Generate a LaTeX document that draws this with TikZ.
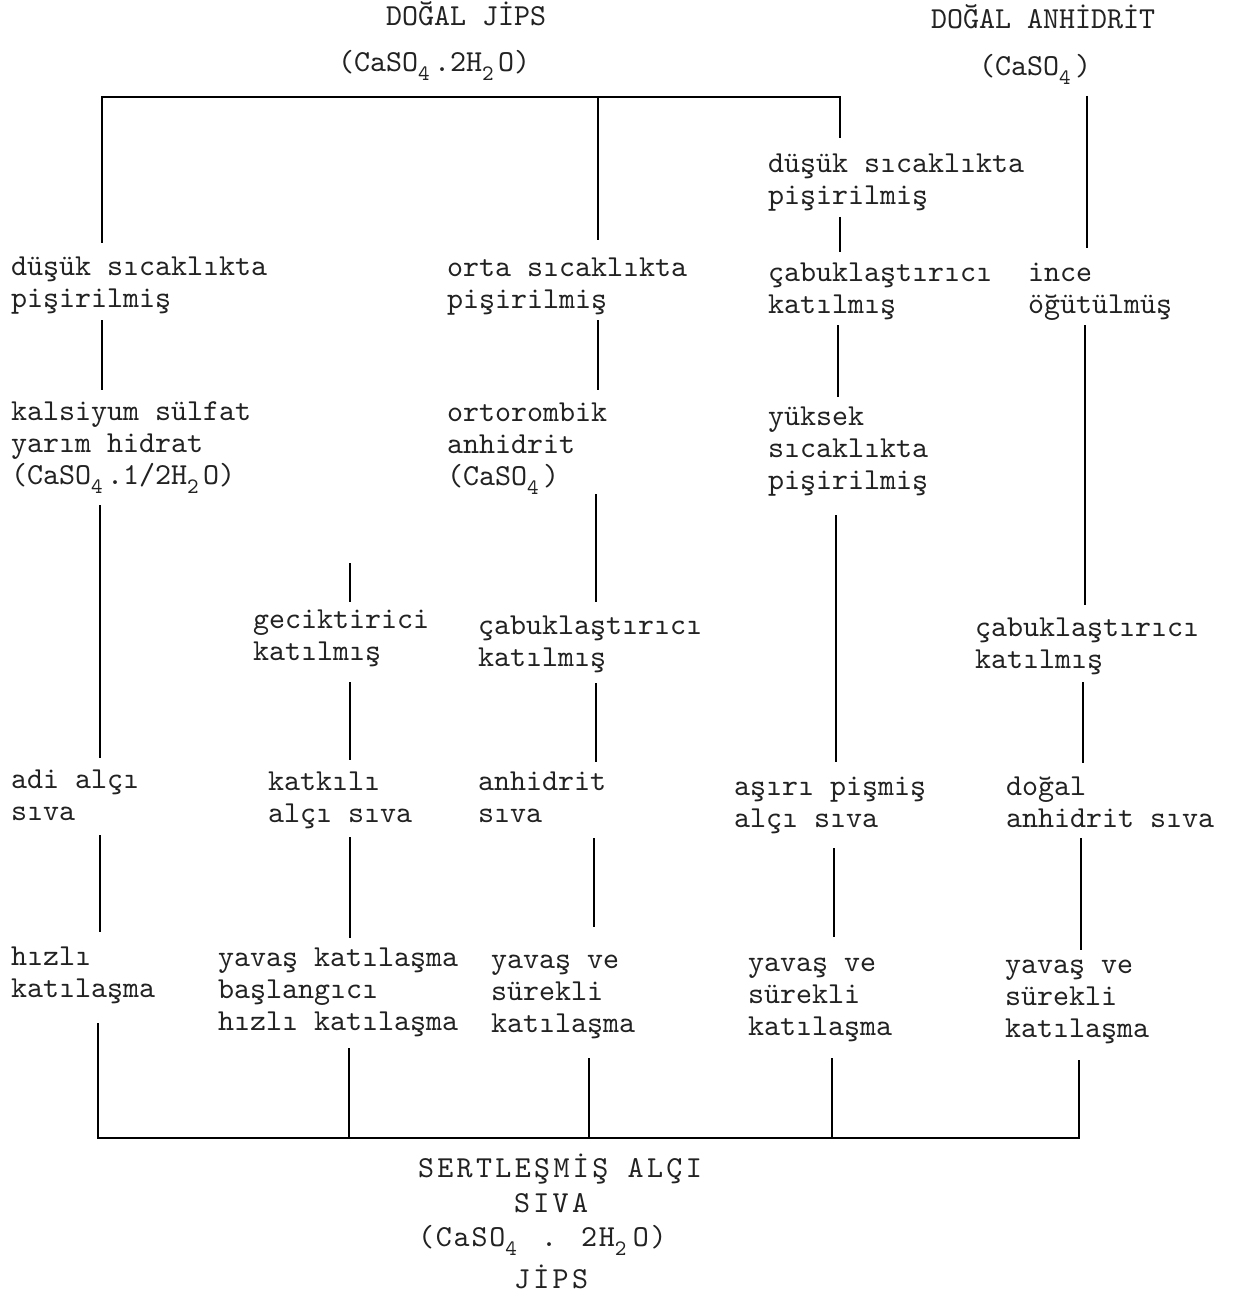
\documentclass[tikz,border=0pt]{standalone}
\usepackage{fontspec}
\newfontfamily\tw{lmmono10-regular.otf}
\newfontfamily\twwide{lmmono10-regular.otf}[LetterSpace=11]
\newfontfamily\twmid{lmmono10-regular.otf}[LetterSpace=6]
\definecolor{ink}{HTML}{222222}
\newcommand\sbs[2][16pt]{\makebox[#1][l]{\raisebox{-9pt}{\fontsize{22}{22}\selectfont #2}}}
\newcommand\tx[1]{\rule{0pt}{22pt}#1\rule[-8pt]{0pt}{8pt}}
\begin{document}
\begin{tikzpicture}[x=1pt,y=-1pt,
  lbl/.style={anchor=north west, inner sep=0pt, outer sep=0pt, align=left, text=ink,
     font=\tw\fontsize{30.5}{32}\selectfont},
  conn/.style={draw=black, line width=1.7pt},
  gap/.style 2 args={conn, shorten <=#1, shorten >=#2}]
\useasboundingbox[fill=white] (0,0) rectangle (1234,1297);

% titles
\node[lbl] (jips) at (338,4) {\tx{\hspace*{48pt}\smash{DOĞAL JİPS}\\[14pt](CaSO\sbs{4}.2H\sbs{2}O)}};
\node[lbl] (anh) at (931,7) {\tx{\smash{DOĞAL ANHİDRİT}\\[15pt]\hspace*{48pt}(CaSO\sbs{4})}};

% nodes
\node[lbl] (n4a) at (768,151) {\tx{düşük sıcaklıkta\\pişirilmiş}};
\node[lbl] (A1) at (11,253) {\tx{düşük sıcaklıkta\\pişirilmiş}};
\node[lbl] (A2) at (447,254) {\tx{orta sıcaklıkta\\pişirilmiş}};
\node[lbl] (A3) at (768,259) {\tx{çabuklaştırıcı\\katılmış}};
\node[lbl] (A4) at (1028,259) {\tx{ince\\öğütülmüş}};
\node[lbl] (B1) at (11,398) {\tx{kalsiyum sülfat\\yarım hidrat\\(CaSO\sbs{4}.1/2H\sbs{2}O)}};
\node[lbl] (B2) at (447,399) {\tx{ortorombik\\anhidrit\\(CaSO\sbs{4})}};
\node[lbl] (B3) at (768,403) {\tx{yüksek\\sıcaklıkta\\pişirilmiş}};
\node[lbl] (C1) at (253,606) {\tx{geciktirici\\katılmış}};
\node[lbl] (C2) at (478,612) {\tx{çabuklaştırıcı\\katılmış}};
\node[lbl] (C4) at (975,614) {\tx{çabuklaştırıcı\\katılmış}};
\node[lbl] (D1) at (11,766) {\tx{adi alçı\\sıva}};
\node[lbl] (D2) at (268,768) {\tx{katkılı\\alçı sıva}};
\node[lbl] (D3) at (478,768) {\tx{anhidrit\\sıva}};
\node[lbl] (D4) at (734,773) {\tx{aşırı pişmiş\\alçı sıva}};
\node[lbl] (D5) at (1006,773) {\tx{doğal\\anhidrit sıva}};
\node[lbl] (E1) at (11,943) {\tx{hızlı\\katılaşma}};
\node[lbl] (E2) at (218,944) {\tx{yavaş katılaşma\\başlangıcı\\hızlı katılaşma}};
\node[lbl] (E3) at (491,946) {\tx{yavaş ve\\sürekli\\katılaşma}};
\node[lbl] (E4) at (748,949) {\tx{yavaş ve\\sürekli\\katılaşma}};
\node[lbl] (E5) at (1005,951) {\tx{yavaş ve\\sürekli\\katılaşma}};
\node[lbl, font=\twwide\fontsize{30.5}{32}\selectfont] (res) at (418,1155)
  {\tx{\smash{SERTLEŞMİŞ ALÇI}\\[3pt]\hspace*{96pt}SIVA\\[2pt]{\twmid(CaSO\sbs[18pt]{4} . 2H\sbs[18pt]{2}O)}\\[9pt]\hspace*{96pt}JİPS}};

% column coordinates
\coordinate (x1a) at (102,0); \coordinate (x1b) at (100,0); \coordinate (x1c) at (98,0);
\coordinate (x2a) at (350,0); \coordinate (x2b) at (349,0);
\coordinate (x3a) at (598,0); \coordinate (x3b) at (596,0); \coordinate (x3c) at (594,0); \coordinate (x3d) at (589,0);
\coordinate (x4a) at (840,0); \coordinate (x4b) at (838,0); \coordinate (x4c) at (836,0); \coordinate (x4d) at (834,0); \coordinate (x4e) at (832,0);
\coordinate (x5a) at (1087,0); \coordinate (x5b) at (1085,0); \coordinate (x5c) at (1083,0); \coordinate (x5d) at (1081,0); \coordinate (x5e) at (1079,0);
\coordinate (barTL) at (102,97); \coordinate (barTR) at (840,97);
\coordinate (barBL) at (98,1138); \coordinate (barBR) at (1079,1138);
\coordinate (stub) at (350,563);

% connectors
\draw[gap={10pt}{13pt}] (x1a |- A1.north) -- (barTL) -- (barTR) -- (x4a |- n4a.north);
\draw[gap={0pt}{14pt}] (x3a |- barTL) -- (x3a |- A2.north);
\draw[gap={11pt}{11pt}] (x5a |- anh.south) -- (x5a |- A4.north);
\draw[gap={4pt}{7pt}] (x4a |- n4a.south) -- (x4a |- A3.north);
\draw[gap={5pt}{8pt}] (x1a |- A1.south) -- (x1a |- B1.north);
\draw[gap={4pt}{9pt}] (x3a |- A2.south) -- (x3a |- B2.north);
\draw[gap={4pt}{6pt}] (x4b |- A3.south) -- (x4b |- B3.north);
\draw[gap={4pt}{9pt}] (x5b |- A4.south) -- (x5b |- C4.north);
\draw[gap={12pt}{8pt}] (x1b |- B1.south) -- (x1b |- D1.north);
\draw[gap={0pt}{10pt}] (x3b |- B2.south) -- (x3b |- C2.north);
\draw[gap={0pt}{4pt}] (stub) -- (x2a |- C1.north);
\draw[gap={18pt}{11pt}] (x4c |- B3.south) -- (x4c |- D4.north);
\draw[gap={14pt}{8pt}] (x2a |- C1.south) -- (x2a |- D2.north);
\draw[gap={9pt}{6pt}] (x3b |- C2.south) -- (x3b |- D3.north);
\draw[gap={6pt}{10pt}] (x5c |- C4.south) -- (x5c |- D5.north);
\draw[gap={7pt}{11pt}] (x1b |- D1.south) -- (x1b |- E1.north);
\draw[gap={7pt}{6pt}] (x2a |- D2.south) -- (x2a |- E2.north);
\draw[gap={8pt}{19pt}] (x3c |- D3.south) -- (x3c |- E3.north);
\draw[gap={13pt}{12pt}] (x4d |- D4.south) -- (x4d |- E4.north);
\draw[gap={3pt}{1pt}] (x5d |- D5.south) -- (x5d |- E5.north);
\draw[gap={18pt}{15pt}] (x1c |- E1.south) -- (barBL) -- (barBR) -- (x5e |- E5.south);
\draw[gap={10pt}{0pt}] (x2b |- E2.south) -- (x2b |- barBL);
\draw[gap={18pt}{0pt}] (x3d |- E3.south) -- (x3d |- barBL);
\draw[gap={15pt}{0pt}] (x4e |- E4.south) -- (x4e |- barBL);
\end{tikzpicture}
\end{document}
